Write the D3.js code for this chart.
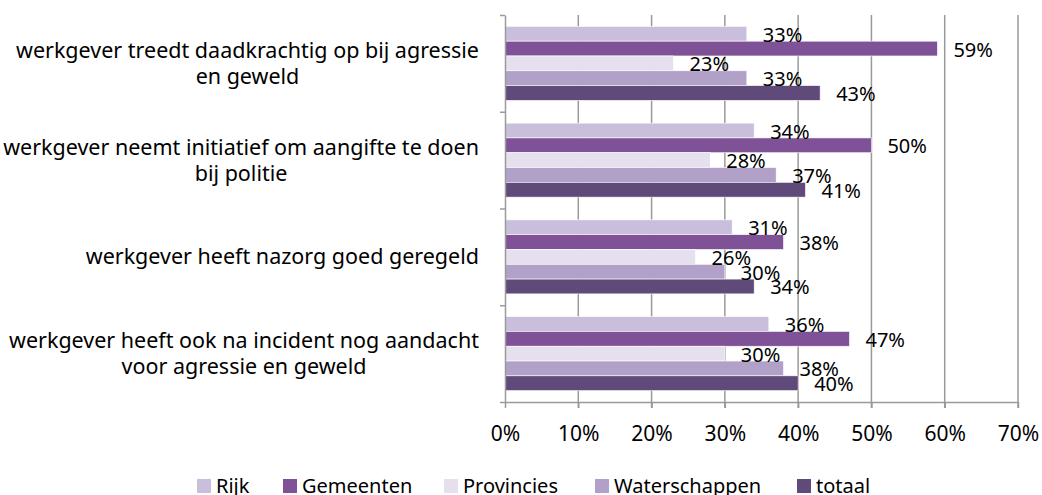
<!DOCTYPE html>
<html><head><meta charset="utf-8">
<script src="https://cdn.jsdelivr.net/npm/d3@7"></script>
<style>body{margin:0;background:#fff;}svg{display:block;font-family:"Noto Sans",sans-serif;}</style>
</head><body><svg id="c" width="1042" height="495"></svg>
<script>
const categories = [
  ["werkgever treedt daadkrachtig op bij agressie", "en geweld"],
  ["werkgever neemt initiatief om aangifte te doen", "bij politie"],
  ["werkgever heeft nazorg goed geregeld"],
  ["werkgever heeft ook na incident nog aandacht", "voor agressie en geweld"]
];
const seriesNames = ["Rijk", "Gemeenten", "Provincies", "Waterschappen", "totaal"];
const seriesColors = ["#c9bfdc", "#7f5297", "#e6dfed", "#b1a0c8", "#5f4a7a"];
const rijk = [33, 34, 31, 36];
const gemeenten = [59, 50, 38, 47];
const provincies = [23, 28, 26, 30];
const waterschappen = [33, 37, 30, 38];
const totaal = [43, 41, 34, 40];
const xTicks = [0, 10, 20, 30, 40, 50, 60, 70];

(function () {
const values = [rijk, gemeenten, provincies, waterschappen, totaal];
const svg = d3.select("#c");
const pL = 505, pR = 1018, pT = 15, pB = 402;
const x = d3.scaleLinear().domain([0, 70]).range([pL, pR]);
const y0 = d3.scaleBand().domain(d3.range(categories.length)).range([pT, pB]).paddingInner(0.235).paddingOuter(0.1175);
const y1 = d3.scaleBand().domain(d3.range(seriesNames.length)).range([0, y0.bandwidth()]);
const fs = 20;

// gridlines
svg.append("g").selectAll("line").data(xTicks.slice(1)).join("line")
  .attr("x1", d => x(d)).attr("x2", d => x(d)).attr("y1", pT).attr("y2", pB + 6)
  .attr("stroke", "#9a9a9a").attr("stroke-width", 1.5);

// bars
const g = svg.append("g");
categories.forEach((c, ci) => {
  values.forEach((s, si) => {
    g.append("rect")
      .attr("x", x(0)).attr("y", y0(ci) + y1(si))
      .attr("width", x(s[ci]) - x(0)).attr("height", y1.bandwidth())
      .attr("fill", seriesColors[si]).attr("stroke", "#ffffff").attr("stroke-width", 0.6);
  });
});
categories.forEach((c, ci) => {
  values.forEach((s, si) => {
    g.append("text")
      .attr("x", x(s[ci]) + 16).attr("y", y0(ci) + y1(si) + y1.bandwidth() / 2 + 1)
      .attr("dy", "0.35em").attr("font-size", fs).attr("fill", "#000")
      .text(s[ci] + "%");
  });
});

// axes
const ax = d3.axisBottom(x).tickValues(xTicks).tickFormat(d => d + "%").tickSize(6).tickSizeOuter(0);
const xg = svg.append("g").attr("transform", `translate(0,${pB})`).call(ax);
xg.select(".domain").attr("stroke", "#9a9a9a").attr("stroke-width", 1.5);
xg.selectAll(".tick line").attr("stroke", "#9a9a9a").attr("stroke-width", 1.5);
xg.selectAll(".tick text").attr("font-size", 21).attr("fill", "#000").attr("font-family", "Noto Sans").attr("y", 32).attr("dy", "0.35em");

const yAxisScale = d3.scaleLinear().domain([0, categories.length]).range([pT, pB]);
const ay = d3.axisLeft(yAxisScale).tickValues(d3.range(categories.length + 1)).tickFormat("").tickSize(5).tickSizeOuter(0);
const yg = svg.append("g").attr("transform", `translate(${pL},0)`).call(ay);
yg.select(".domain").attr("stroke", "#9a9a9a").attr("stroke-width", 1.5);
yg.selectAll(".tick line").attr("stroke", "#9a9a9a").attr("stroke-width", 1.5);

// category labels
categories.forEach((lines, ci) => {
  const cy = y0(ci) + y0.bandwidth() / 2;
  const lh = 26;
  const tmp = svg.append("g").attr("font-size", 21.5);
  const texts = lines.map((l, li) => tmp.append("text").attr("y", cy + (li - (lines.length - 1) / 2) * lh).attr("dy", "0.35em").attr("text-anchor", "middle").text(l));
  const w = d3.max(texts, t => t.node().getComputedTextLength());
  const cx = 479 - w / 2;
  texts.forEach(t => t.attr("x", cx));
});

// legend
const legendX = [197, 283, 444, 595, 797];
const lg = svg.append("g");
seriesNames.forEach((n, i) => {
  lg.append("rect").attr("x", legendX[i]).attr("y", 479).attr("width", 14).attr("height", 14).attr("fill", seriesColors[i]);
  lg.append("text").attr("x", legendX[i] + 19).attr("y", 486).attr("dy", "0.35em").attr("font-size", 20).text(n);
});
})();
</script></body></html>
